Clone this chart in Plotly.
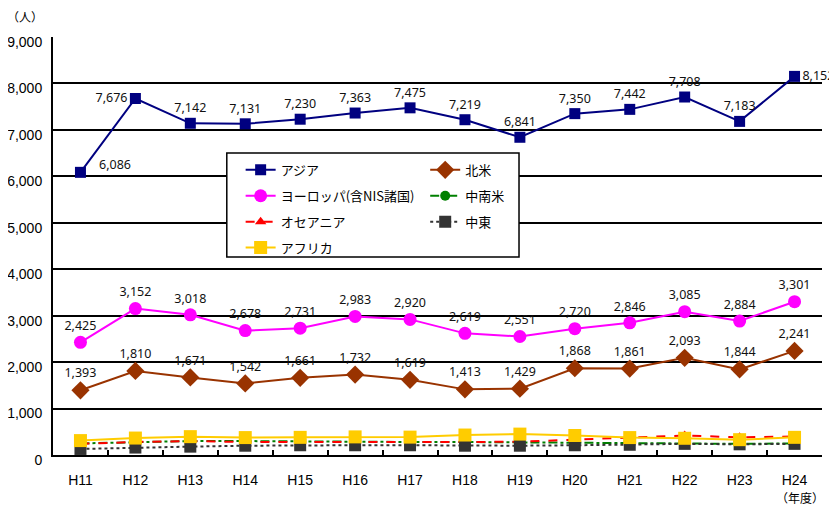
import plotly.graph_objects as go

years = ["H11", "H12", "H13", "H14", "H15", "H16", "H17", "H18", "H19", "H20", "H21", "H22", "H23", "H24"]
asia = [6086, 7676, 7142, 7131, 7230, 7363, 7475, 7219, 6841, 7350, 7442, 7708, 7183, 8152]
europe = [2425, 3152, 3018, 2678, 2731, 2983, 2920, 2619, 2551, 2720, 2846, 3085, 2884, 3301]
north_america = [1393, 1810, 1671, 1542, 1661, 1732, 1619, 1413, 1429, 1868, 1861, 2093, 1844, 2241]
latin_america = [250, 280, 300, 300, 290, 280, 280, 280, 270, 270, 260, 250, 240, 250]
oceania = [240, 280, 300, 280, 280, 275, 270, 280, 285, 330, 370, 420, 380, 400]
middle_east = [130, 160, 180, 200, 210, 210, 210, 200, 200, 210, 220, 240, 230, 240]
africa = [310, 365, 395, 375, 380, 390, 385, 430, 450, 420, 375, 360, 330, 380]

asia_textpos = ["top right", "middle left"] + ["top center"] * 11 + ["middle right"]

lab_font = dict(family="Noto Sans", size=12.5, color="#111111")
leg_font = dict(family="Noto Sans CJK JP", size=13, color="#000000")

fig = go.Figure()

def fmt(v):
    return [f"{x:,}" for x in v]

asia_text = fmt(asia)
first_asia_label = asia_text[0]
asia_text[0] = ""  # first label is placed as an annotation (offset to the right of the line)

fig.add_trace(go.Scatter(x=years, y=asia, name="アジア", mode="lines+markers+text",
                         text=asia_text, textposition=asia_textpos, textfont=lab_font,
                         line=dict(color="#000080", width=2),
                         marker=dict(symbol="square", size=11, color="#000080"),
                         legend="legend", legendgroup="a", cliponaxis=False))
fig.add_trace(go.Scatter(x=years, y=europe, name="ヨーロッパ(含NIS諸国)", mode="lines+markers+text",
                         text=fmt(europe), textposition="top center", textfont=lab_font,
                         line=dict(color="#FF00FF", width=2),
                         marker=dict(symbol="circle", size=13, color="#FF00FF"),
                         legend="legend", legendgroup="b", cliponaxis=False))
fig.add_trace(go.Scatter(x=years, y=north_america, name="北米", mode="lines+markers+text",
                         text=fmt(north_america), textposition="top center", textfont=lab_font,
                         line=dict(color="#993300", width=2),
                         marker=dict(symbol="diamond", size=14, color="#993300"),
                         legend="legend2", legendgroup="c", cliponaxis=False))
fig.add_trace(go.Scatter(x=years, y=latin_america, name="中南米", mode="lines+markers",
                         line=dict(color="#008000", width=2, dash="dashdot"),
                         marker=dict(symbol="circle", size=10, color="#008000"),
                         legend="legend2", legendgroup="d", cliponaxis=False))
fig.add_trace(go.Scatter(x=years, y=oceania, name="オセアニア", mode="lines+markers",
                         line=dict(color="#FF0000", width=2, dash="dash"),
                         marker=dict(symbol="triangle-up", size=10, color="#FF0000"),
                         legend="legend", legendgroup="e", cliponaxis=False))
fig.add_trace(go.Scatter(x=years, y=middle_east, name="中東", mode="lines+markers",
                         line=dict(color="#333333", width=2, dash="dot"),
                         marker=dict(symbol="square", size=12, color="#333333"),
                         legend="legend2", legendgroup="f", cliponaxis=False))
fig.add_trace(go.Scatter(x=years, y=africa, name="アフリカ", mode="lines+markers",
                         line=dict(color="#FFCC00", width=2),
                         marker=dict(symbol="square", size=13, color="#FFCC00"),
                         legend="legend", legendgroup="g", cliponaxis=False))

# page body has an 8px margin: figure is placed at (8, 8) in the window
fig.update_layout(
    width=829, height=500,
    margin=dict(l=45, r=15, t=29, b=53, autoexpand=False),
    paper_bgcolor="white", plot_bgcolor="white",
    font=dict(family="Liberation Sans", size=14, color="#000000"),
    showlegend=True,
    legend=dict(x=0.244, y=0.718, xanchor="left", yanchor="top", orientation="v",
                bgcolor="rgba(0,0,0,0)", borderwidth=0, font=leg_font,
                tracegroupgap=6, traceorder="grouped"),
    legend2=dict(x=0.484, y=0.718, xanchor="left", yanchor="top", orientation="v",
                 bgcolor="rgba(0,0,0,0)", borderwidth=0, font=leg_font,
                 tracegroupgap=6, traceorder="grouped"),
    xaxis=dict(type="category", tickson="boundaries", ticks="inside", ticklen=5,
               tickcolor="#000000", tickwidth=1.5, showline=True, linecolor="#000000",
               linewidth=2, showgrid=False, tickfont=dict(size=14, family="Liberation Sans"),
               range=[-0.5, 13.5], automargin=False, ticklabelstandoff=11),
    yaxis=dict(range=[0, 9000], dtick=1000, tickformat=",d", showgrid=True,
               gridcolor="#000000", gridwidth=1.5, showline=True, linecolor="#000000",
               linewidth=2, ticks="", zeroline=False, automargin=False,
               ticklabelstandoff=6, ticklabelshift=5,
               tickfont=dict(size=14, family="Liberation Sans")),
    shapes=[dict(type="rect", xref="paper", yref="paper", x0=0.226, x1=0.606,
                 y0=0.4737, y1=0.7225, line=dict(color="#000000", width=1.5),
                 fillcolor="white", layer="above")],
    annotations=[
        dict(text=first_asia_label, x=years[0], y=asia[0], xref="x", yref="y",
             xanchor="left", yanchor="middle", xshift=17, yshift=8, showarrow=False,
             font=lab_font),
        dict(text="（人）", xref="paper", yref="paper", x=-0.062, y=1.05,
             xanchor="left", yanchor="middle", showarrow=False,
             font=dict(family="Noto Sans CJK JP", size=12)),
        dict(text="（年度）", xref="paper", yref="paper", x=0.971, y=-0.1268,
             xanchor="center", yanchor="bottom", showarrow=False,
             font=dict(family="Noto Sans CJK JP", size=12)),
    ],
)

fig.write_html("out.html")
